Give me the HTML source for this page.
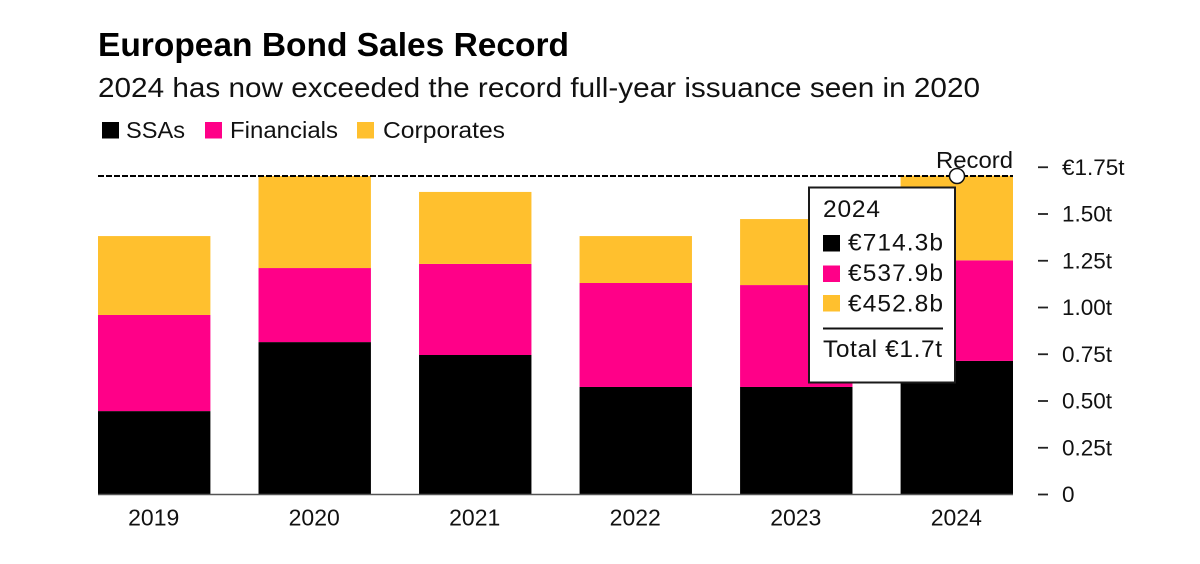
<!DOCTYPE html>
<html lang="en">
<head>
<meta charset="utf-8">
<title>European Bond Sales Record</title>
<style>
html,body{margin:0;padding:0;background:#fff;width:1200px;height:564px;overflow:hidden}
svg{display:block}
text{font-family:"Liberation Sans",sans-serif;fill:#111}
</style>
</head>
<body>
<svg id="chart" width="1200" height="564" viewBox="0 0 1200 564" xmlns="http://www.w3.org/2000/svg">
  <text x="98" y="56" font-size="33" font-weight="700" textLength="471" lengthAdjust="spacingAndGlyphs" style="fill:#000">European Bond Sales Record</text>
  <text x="98" y="97" font-size="28" textLength="882" lengthAdjust="spacingAndGlyphs">2024 has now exceeded the record full-year issuance seen in 2020</text>

  <rect x="102" y="122" width="17" height="16.5" fill="#000"/>
  <text x="126" y="138" font-size="23" textLength="59" lengthAdjust="spacingAndGlyphs">SSAs</text>
  <rect x="205" y="122" width="17" height="16.5" fill="#ff0088"/>
  <text x="230" y="138" font-size="23" textLength="108" lengthAdjust="spacingAndGlyphs">Financials</text>
  <rect x="357" y="122" width="17" height="16.5" fill="#ffc02e"/>
  <text x="383" y="138" font-size="23" textLength="122" lengthAdjust="spacingAndGlyphs">Corporates</text>

  <g id="bars"></g>
  <g id="axis"></g>

  <line x1="98" y1="176" x2="1013" y2="176" stroke="#000" stroke-width="2" stroke-dasharray="6 2"/>
  <text x="1013" y="168" font-size="23" text-anchor="end" textLength="77" lengthAdjust="spacingAndGlyphs">Record</text>

  <g>
    <rect x="809" y="187.500" width="146" height="195" fill="#fff" stroke="#1a1a1a" stroke-width="2"/>
    <text x="823" y="217" font-size="24.5" textLength="57" lengthAdjust="spacing">2024</text>
    <rect x="823" y="235" width="17" height="16.500" fill="#000"/>
    <text x="848" y="250.500" font-size="24.5" textLength="95" lengthAdjust="spacing">€714.3b</text>
    <rect x="823" y="265.500" width="17" height="16.500" fill="#ff0088"/>
    <text x="848" y="281" font-size="24.5" textLength="95" lengthAdjust="spacing">€537.9b</text>
    <rect x="823" y="295" width="17" height="16.500" fill="#ffc02e"/>
    <text x="848" y="311.500" font-size="24.5" textLength="95" lengthAdjust="spacing">€452.8b</text>
    <line x1="823" y1="328.500" x2="943" y2="328.500" stroke="#111" stroke-width="2"/>
    <text x="823" y="357" font-size="24.5" textLength="119" lengthAdjust="spacing">Total €1.7t</text>
  </g>
  <circle cx="957" cy="176" r="7.500" fill="#fff" stroke="#111" stroke-width="1.500"/>
</svg>
<script>
const categories = ["2019", "2020", "2021", "2022", "2023", "2024"];
const ssas = [446, 815, 746, 575, 575, 714.3];
const financials = [514, 396, 487, 556, 545, 537.9];
const corporates = [422, 492, 385, 251, 353, 452.8];
const tickValues = [0, 250, 500, 750, 1000, 1250, 1500, 1750];
const tickLabels = ["0", "0.25t", "0.50t", "0.75t", "1.00t", "1.25t", "1.50t", "€1.75t"];

const NS = "http://www.w3.org/2000/svg";
const plotLeft = 98, plotRight = 1013, baseY = 494.5, pxPerBillion = 0.187;
const barsG = document.getElementById("bars");
const axisG = document.getElementById("axis");

function yScale(v) { return baseY - v * pxPerBillion; }
function bandStep() { return (plotRight - plotLeft - barW()) / (categories.length - 1); }
function barW() { return 112.4; }
function xScale(i) { return plotLeft + i * bandStep(); }

const seriesList = [
  { key: "ssas", values: ssas, color: "#000000" },
  { key: "financials", values: financials, color: "#ff0088" },
  { key: "corporates", values: corporates, color: "#ffc02e" }
];

categories.forEach(function (cat, i) {
  let cum = 0;
  seriesList.forEach(function (s) {
    const y0 = yScale(cum);
    cum += s.values[i];
    const y1 = yScale(cum);
    const r = document.createElementNS(NS, "rect");
    r.setAttribute("x", xScale(i));
    r.setAttribute("y", y1);
    r.setAttribute("width", barW());
    r.setAttribute("height", y0 - y1);
    r.setAttribute("fill", s.color);
    
    
    barsG.appendChild(r);
  });
  const t = document.createElementNS(NS, "text");
  t.setAttribute("x", xScale(i) + barW() / 2 - 0.5);
  t.setAttribute("y", 525.5);
  t.setAttribute("font-size", "23");
  t.setAttribute("text-anchor", "middle");
  t.textContent = cat;
  
  
  axisG.appendChild(t);
});

const baseLine = document.createElementNS(NS, "line");
baseLine.setAttribute("x1", plotLeft);
baseLine.setAttribute("x2", plotRight);
baseLine.setAttribute("y1", baseY);
baseLine.setAttribute("y2", baseY);
baseLine.setAttribute("stroke", "#555");
baseLine.setAttribute("stroke-width", "1.5");


axisG.appendChild(baseLine);

tickValues.forEach(function (v, i) {
  const y = yScale(v);
  const m = document.createElementNS(NS, "line");
  m.setAttribute("x1", 1038);
  m.setAttribute("x2", 1048);
  m.setAttribute("y1", y);
  m.setAttribute("y2", y);
  m.setAttribute("stroke", "#222");
  m.setAttribute("stroke-width", "1.800");
  
  
  axisG.appendChild(m);
  const t = document.createElementNS(NS, "text");
  t.setAttribute("x", 1062);
  t.setAttribute("y", y + 7.5);
  t.setAttribute("font-size", "22.5");
  t.textContent = tickLabels[i];
  
  
  axisG.appendChild(t);
});
</script>
</body>
</html>
